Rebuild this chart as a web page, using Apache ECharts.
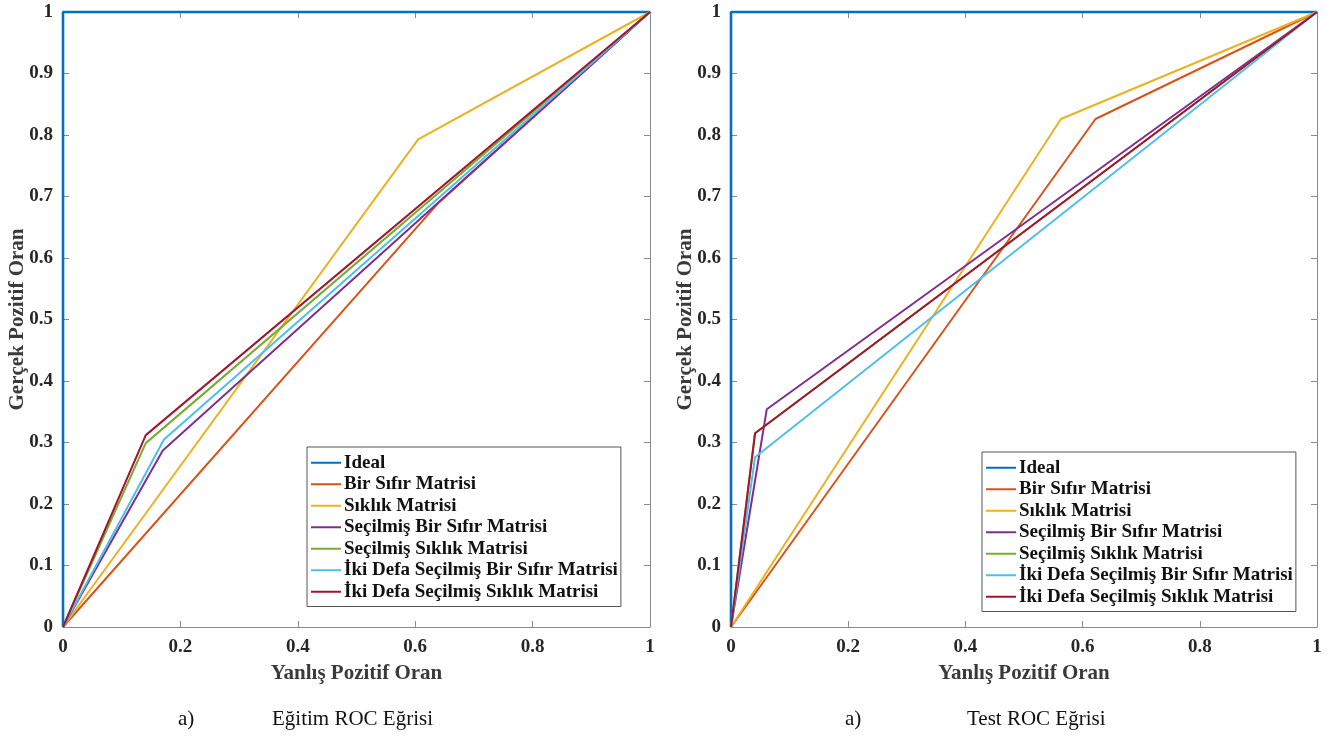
<!DOCTYPE html>
<html>
<head>
<meta charset="utf-8">
<script src="https://cdn.jsdelivr.net/npm/echarts@6/dist/echarts.min.js"></script>
<style>
html,body{margin:0;padding:0;background:#fff;}
#chart{width:1333px;height:740px;}
</style>
</head>
<body>
<div id="chart"></div>
<script>
const seriesNames = ['Ideal','Bir Sıfır Matrisi','Sıklık Matrisi','Seçilmiş Bir Sıfır Matrisi','Seçilmiş Sıklık Matrisi','İki Defa Seçilmiş Bir Sıfır Matrisi','İki Defa Seçilmiş Sıklık Matrisi'];
const colors = ['#0072BD','#D95319','#EDB120','#7E2F8E','#77AC30','#4DBEEE','#A2142F'];
// each ROC curve: (0,0) -> knee -> (1,1)
const trainKneeFPR = [0, 0.64, 0.605, 0.17, 0.141, 0.172, 0.141];
const trainKneeTPR = [1, 0.69, 0.793, 0.287, 0.299, 0.305, 0.312];
const testKneeFPR = [0, 0.622, 0.563, 0.061, 0.041, 0.041, 0.041];
const testKneeTPR = [1, 0.826, 0.826, 0.354, 0.315, 0.276, 0.315];
const xTitle = 'Yanlış Pozitif Oran';
const yTitle = 'Gerçek Pozitif Oran';
const captions = [['a)', 'Eğitim ROC Eğrisi'], ['a)', 'Test ROC Eğrisi']];

const chart = echarts.init(document.getElementById('chart'));
const serif = '"Liberation Serif", "Times New Roman", serif';
const axisGray = '#8a8a8a';

function mainX(gi){
  return {type:'value', gridIndex:gi, min:0, max:1, interval:0.2, position:'bottom',
    name:xTitle, nameLocation:'middle', nameGap:36,
    nameTextStyle:{fontFamily:serif, fontWeight:'bold', fontSize:21, color:'#3a3a3a'},
    axisLine:{show:true, onZero:false, lineStyle:{color:axisGray, width:1}},
    axisTick:{show:true, inside:true, length:6, lineStyle:{color:axisGray}},
    axisLabel:{fontFamily:serif, fontWeight:'bold', fontSize:19, color:'#262626', margin:11},
    splitLine:{show:false}};
}
function topX(gi){
  return {type:'value', gridIndex:gi, min:0, max:1, interval:0.2, position:'top',
    axisLine:{show:true, onZero:false, lineStyle:{color:axisGray, width:1}},
    axisTick:{show:true, inside:true, length:6, lineStyle:{color:axisGray}},
    axisLabel:{show:false}, splitLine:{show:false}};
}
function mainY(gi){
  return {type:'value', gridIndex:gi, min:0, max:1, interval:0.1, position:'left',
    name:yTitle, nameLocation:'middle', nameGap:35, nameMoveOverlap:false,
    nameTextStyle:{fontFamily:serif, fontWeight:'bold', fontSize:21, color:'#3a3a3a'},
    axisLine:{show:true, onZero:false, lineStyle:{color:axisGray, width:1}},
    axisTick:{show:true, inside:true, length:6, lineStyle:{color:axisGray}},
    axisLabel:{fontFamily:serif, fontWeight:'bold', fontSize:19, color:'#262626', margin:10},
    splitLine:{show:false}};
}
function rightY(gi){
  return {type:'value', gridIndex:gi, min:0, max:1, interval:0.1, position:'right',
    axisLine:{show:true, onZero:false, lineStyle:{color:axisGray, width:1}},
    axisTick:{show:true, inside:true, length:6, lineStyle:{color:axisGray}},
    axisLabel:{show:false}, splitLine:{show:false}};
}

const series = [];
function addCurves(kx, ky, xi, yi){
  for (let i = 0; i < seriesNames.length; i++){
    series.push({
      type:'line', name:seriesNames[i], xAxisIndex:xi, yAxisIndex:yi,
      data:[[0,0],[kx[i],ky[i]],[1,1]],
      showSymbol:false, symbol:'none', clip:false, animation:false,
      lineStyle:{color:colors[i], width: i===0 ? 2.6 : 2},
      itemStyle:{color:colors[i]},
      z: 2 + i
    });
  }
}
addCurves(trainKneeFPR, trainKneeTPR, 0, 0);
addCurves(testKneeFPR, testKneeTPR, 2, 2);

function legendAt(left, top){
  return {orient:'vertical', left:left, top:top, data:seriesNames,
    icon:'rect', itemWidth:30, itemHeight:2, itemGap:0,
    padding:[5,3,4,4], backgroundColor:'#fff', borderColor:'#555', borderWidth:1,
    selectedMode:false,
    textStyle:{fontFamily:serif, fontWeight:'bold', fontSize:19, color:'#111', lineHeight:21.5, padding:[0,0,0,-2]}};
}

function captionEls(xA, xT, label){
  return [
    {type:'text', left:xA, top:709, style:{text:label[0], font:'21px ' + serif, fill:'#111'}},
    {type:'text', left:xT, top:709, style:{text:label[1], font:'21px ' + serif, fill:'#111'}}
  ];
}

chart.setOption({
  animation:false,
  color:colors,
  grid:[
    {left:63, top:12, width:587, height:615, containLabel:false},
    {left:731, top:12, width:586, height:615, containLabel:false}
  ],
  xAxis:[mainX(0), topX(0), mainX(1), topX(1)],
  yAxis:[mainY(0), rightY(0), mainY(1), rightY(1)],
  legend:[legendAt(307, 447), legendAt(982, 452)],
  series:series,
  graphic:[].concat(captionEls(178, 272, captions[0]), captionEls(845, 967, captions[1]))
});
</script>
</body>
</html>
